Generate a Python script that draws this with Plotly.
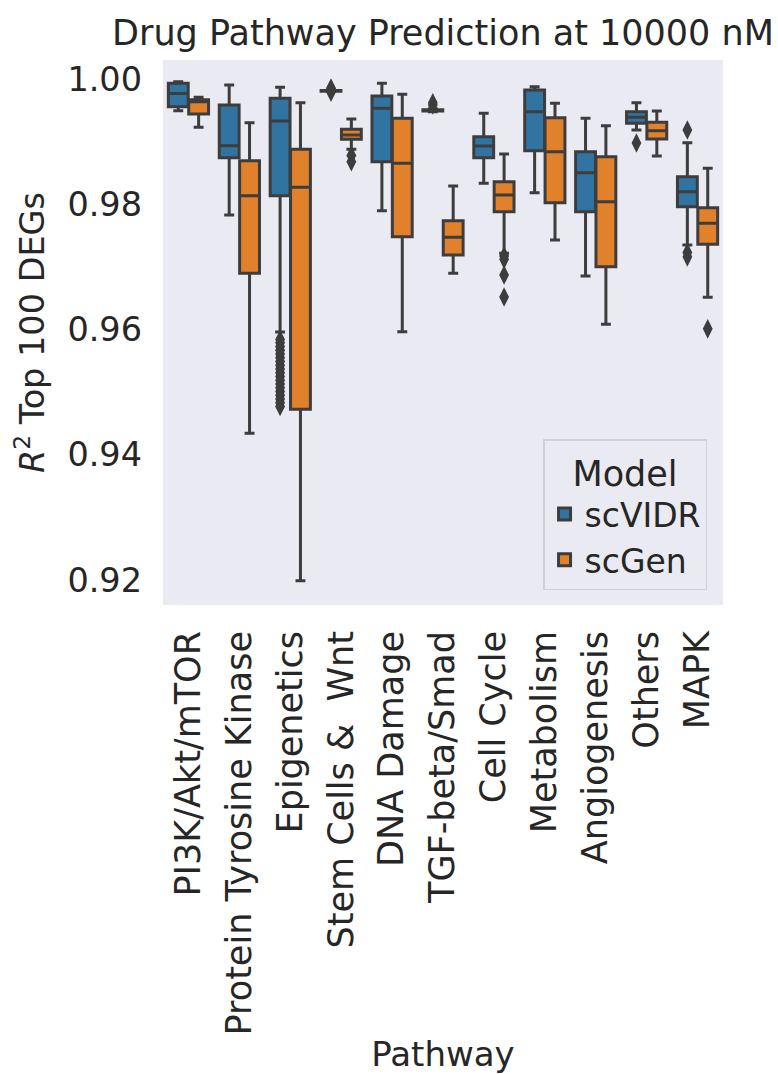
import plotly.graph_objects as go

categories = ["PI3K/Akt/mTOR", "Protein Tyrosine Kinase", "Epigenetics", "Stem Cells &  Wnt",
              "DNA Damage", "TGF-beta/Smad", "Cell Cycle", "Metabolism", "Angiogenesis",
              "Others", "MAPK"]

# scVIDR box statistics
vidr_lower = [0.99494, 0.97828, 0.95960, 0.99800, 0.97897, 0.99475, 0.98334, 0.98185, 0.96854, 0.99186, 0.97349]
vidr_q1 = [0.99558, 0.98744, 0.98137, 0.99806, 0.98680, 0.99490, 0.98744, 0.98855, 0.97881, 0.99292, 0.97961]
vidr_median = [0.99770, 0.98935, 0.99329, 0.99812, 0.99532, 0.99500, 0.98930, 0.99478, 0.98504, 0.99388, 0.98200]
vidr_q3 = [0.99930, 0.99585, 0.99691, 0.99818, 0.99729, 0.99510, 0.99079, 0.99824, 0.98839, 0.99478, 0.98440]
vidr_upper = [0.99957, 0.99904, 0.99867, 0.99825, 0.99931, 0.99525, 0.99452, 0.99877, 0.99372, 0.99622, 0.98983]

# scGen box statistics
gen_lower = [0.99229, 0.94342, 0.91989, 0.98877, 0.95965, 0.96897, 0.97217, 0.97429, 0.96082, 0.98770, 0.96514]
gen_q1 = [0.99441, 0.96897, 0.94726, 0.99037, 0.97482, 0.97190, 0.97881, 0.98025, 0.97003, 0.99042, 0.97360]
gen_median = [0.99635, 0.98137, 0.98271, 0.99106, 0.98654, 0.97472, 0.98148, 0.98839, 0.98041, 0.99175, 0.97696]
gen_q3 = [0.99670, 0.98696, 0.98877, 0.99197, 0.99372, 0.97738, 0.98360, 0.99382, 0.98760, 0.99308, 0.97945]
gen_upper = [0.99707, 0.99303, 0.99622, 0.99361, 0.99756, 0.98291, 0.98802, 0.99612, 0.99254, 0.99489, 0.98574]

# outliers: (category index, value)
vidr_out_cat = [2] * 19 + [3, 3, 3, 5, 5, 9, 10, 10, 10]
vidr_out_val = [0.9584, 0.9579, 0.9573, 0.9567, 0.9561, 0.9555, 0.9549, 0.9543, 0.9537, 0.9531,
                0.9525, 0.9519, 0.9513, 0.9507, 0.9501, 0.9495, 0.9489, 0.9483, 0.9477,
                0.99855, 0.99838, 0.99790, 0.99620, 0.99585, 0.98978, 0.99186, 0.97230, 0.97160]
gen_out_cat = [3, 3, 6, 6, 6, 6, 10]
gen_out_val = [0.98780, 0.98680, 0.97175, 0.97120, 0.96870, 0.96519, 0.96010]

y_ticks = [0.92, 0.94, 0.96, 0.98, 1.00]

BLUE = "#3274a1"
ORANGE = "#e1812c"
LINE = "#3d3d3d"
TXT = "#262626"
FONT = "DejaVu Sans"
off = 0.2

fig = go.Figure()
series = [
    ("scVIDR", BLUE, -off, vidr_lower, vidr_q1, vidr_median, vidr_q3, vidr_upper, vidr_out_cat, vidr_out_val),
    ("scGen", ORANGE, off, gen_lower, gen_q1, gen_median, gen_q3, gen_upper, gen_out_cat, gen_out_val),
]
for name, col, dx, lo, q1, med, q3, up, oc, ov in series:
    xs = [i + dx for i in range(len(categories))]
    fig.add_trace(go.Box(
        name=name, x=xs, q1=q1, median=med, q3=q3, lowerfence=lo, upperfence=up,
        width=0.39, whiskerwidth=0.5, fillcolor=col,
        line=dict(color=LINE, width=3), boxpoints=False, showlegend=True,
    ))
    fig.add_trace(go.Scatter(
        x=[c + dx for c in oc], y=ov, mode="markers", showlegend=False,
        marker=dict(symbol="diamond-tall", size=14, color=LINE),
        hoverinfo="skip",
    ))

fig.update_layout(
    width=778, height=1074,
    margin=dict(l=163, r=55, t=60, b=469),
    paper_bgcolor="white", plot_bgcolor="#eaeaf2",
    font=dict(family=FONT, size=34, color=TXT),
    boxmode="overlay",
    title=dict(text="Drug Pathway Prediction at 10000 nM", x=0.5, xref="paper", xanchor="center",
               y=1 - 33 / 1074, yref="container", yanchor="middle",
               font=dict(family=FONT, size=35, color=TXT)),
    legend=dict(
        x=0.9715, xanchor="right", y=0.0275, yanchor="bottom",
        bgcolor="#eaeaf2", bordercolor="#cfcfd6", borderwidth=1.5,
        font=dict(family=FONT, size=33, color=TXT),
        title=dict(text="Model", side="top center", font=dict(family=FONT, size=35, color=TXT)),
        itemwidth=30,
    ),
)
fig.update_xaxes(
    range=[-0.5, len(categories) - 0.5],
    tickvals=list(range(len(categories))), ticktext=categories,
    tickangle=-90, showgrid=False, zeroline=False, showline=False, ticks="",
    ticklabelstandoff=18, tickfont=dict(family=FONT, size=35, color=TXT),
    automargin=False,
    title=dict(text="Pathway", standoff=16, font=dict(family=FONT, size=34, color=TXT)),
)
fig.update_yaxes(
    range=[0.91601, 1.00303],
    tickvals=y_ticks, ticktext=[f"{v:.2f}" for v in y_ticks],
    showgrid=False, zeroline=False, showline=False, ticks="",
    ticklabelstandoff=20, tickfont=dict(family=FONT, size=33.5, color=TXT),
    automargin=False,
    title=dict(text="<i>R</i><sup>2</sup> Top 100 DEGs", standoff=12,
               font=dict(family=FONT, size=33.5, color=TXT)),
)

fig.write_html("out.html")
